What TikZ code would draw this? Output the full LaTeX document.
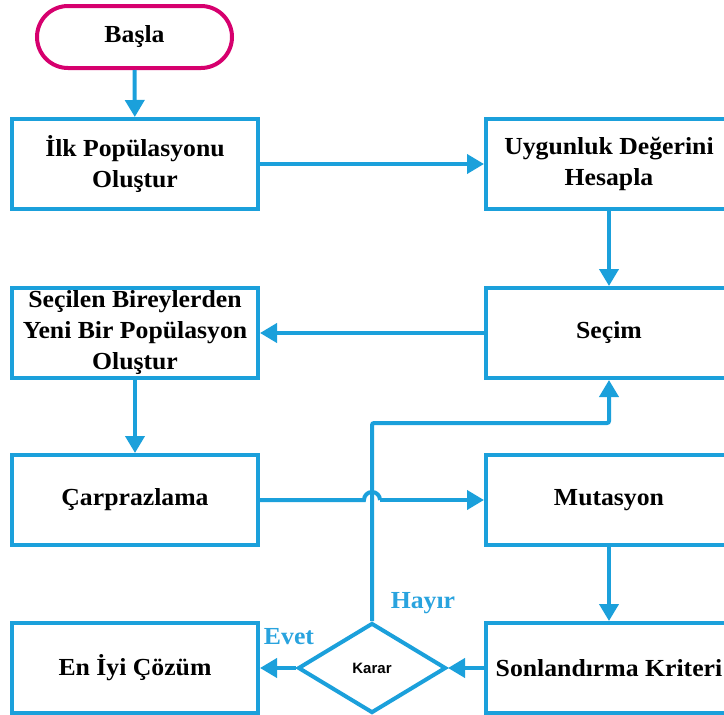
\documentclass[tikz,border=0pt]{standalone}
\usepackage{fontspec}
\setmainfont{Liberation Serif}[FakeStretch=1.05]
\newfontfamily\karfont{Liberation Sans}
\usetikzlibrary{arrows.meta,shapes.geometric,shapes.misc}
\definecolor{lineblue}{RGB}{27,160,219}
\definecolor{labblue}{RGB}{41,163,222}
\definecolor{startmag}{RGB}{214,0,110}
\begin{document}
\begin{tikzpicture}[x=1pt,y=-1pt,
  box/.style={draw=lineblue,line width=4pt,fill=white,minimum width=246pt,minimum height=90pt,
    inner sep=0pt,align=center,font=\fontsize{24.5}{31}\selectfont\bfseries},
  startbox/.style={draw=startmag,line width=4pt,rounded rectangle,minimum width=195pt,minimum height=62pt,
    inner sep=0pt,font=\fontsize{24.5}{31}\selectfont\bfseries},
  decbox/.style={draw=lineblue,line width=4pt,diamond,aspect=1.64,minimum width=148pt,minimum height=90pt,
    inner sep=0pt,font=\karfont\fontsize{15}{18}\selectfont\bfseries},
  conn/.style={draw=lineblue,line width=4pt,-{Triangle[width=19pt,length=17pt]}},
  plainconn/.style={draw=lineblue,line width=4pt},
  lab/.style={text=labblue,font=\fontsize{24.5}{28}\selectfont\bfseries}]
\useasboundingbox (0,0) rectangle (724,715);
\clip (0,0) rectangle (724,715);
\node[startbox] (start) at (134.5,37) {Başla};
\node[box] (ilk) at (135,164) {İlk Popülasyonu\\Oluştur};
\node[box] (uyg) at (609,164) {Uygunluk Değerini\\Hesapla};
\node[box] (sec) at (609,333) {Seçim};
\node[box] (yeni) at (135,333) {Seçilen Bireylerden\\Yeni Bir Popülasyon\\Oluştur};
\node[box] (car) at (135,500) {Çarprazlama};
\node[box] (mut) at (609,500) {Mutasyon};
\node[box] (son) at (609,668) {Sonlandırma Kriteri};
\node[box] (eni) at (135,668) {En İyi Çözüm};
\node[decbox] (dec) at (372,668) {Karar};
\coordinate (hc) at (372,423);
\coordinate (hopL) at (364,500);
\coordinate (hopR) at (380,500);
\draw[conn] (start) -- (ilk);
\draw[conn] (ilk) -- (uyg);
\draw[conn] (uyg) -- (sec);
\draw[conn] (sec) -- (yeni);
\draw[conn] (yeni) -- (car);
\draw[plainconn] (car.east) -- (hopL) arc[start angle=180,end angle=0,radius=8pt];
\draw[conn] (hopR) -- (mut.west);
\draw[conn] (mut) -- (son);
\draw[conn] (son) -- (dec);
\draw[conn] (dec) -- (eni);
\draw[conn,rounded corners=2pt] (dec.north) -- (hc) -| (sec.south);
\node[lab] (evet) at (289,637) {Evet};
\node[lab] (hayir) at (423,603) {Hayır};
\end{tikzpicture}
\end{document}
